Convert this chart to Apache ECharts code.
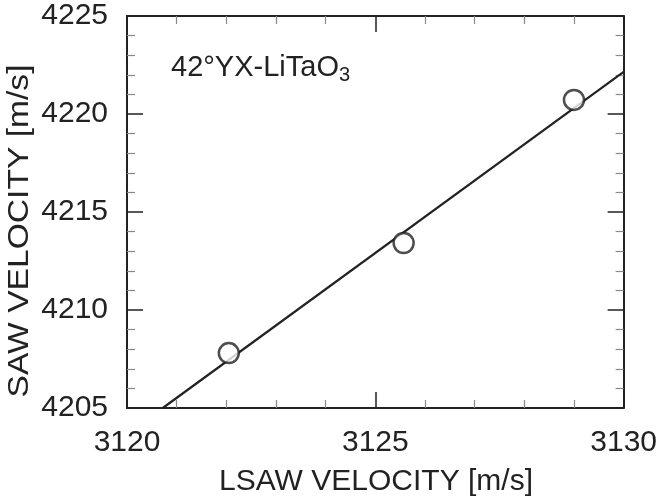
<!DOCTYPE html>
<html>
<head>
<meta charset="utf-8">
<script src="https://cdn.jsdelivr.net/npm/echarts@6/dist/echarts.min.js"></script>
<style>html,body{margin:0;padding:0;background:#fff}#c{width:660px;height:500px}</style>
</head>
<body>
<div id="c"></div>
<script>
const lsawVelocity = [3122.05, 3125.57, 3129.0];
const sawVelocity = [4207.8, 4213.42, 4220.72];
const fitX = [3120.72, 3130];
const fitY = [4205, 4222.15];
const xTicks = [3120, 3125, 3130];
const yTicks = [4205, 4210, 4215, 4220, 4225];
const xTitle = 'LSAW VELOCITY [m/s]';
const yTitle = 'SAW VELOCITY [m/s]';
const annotation = '42°YX-LiTaO{sub|3}';

const FONT = '"Liberation Sans", Arial, sans-serif';
const INK = '#222';
const chart = echarts.init(document.getElementById('c'), null, {renderer: 'canvas'});

function axisBase(pos, isX, show) {
  const ticks = isX ? xTicks : yTicks;
  return {
    type: 'value', position: pos,
    min: ticks[0], max: ticks[ticks.length - 1], interval: 5,
    axisLine: {show: true, onZero: false, lineStyle: {color: INK, width: 2}},
    axisTick: {show: true, inside: true, length: 16, lineStyle: {color: INK, width: 1.5}},
    minorTick: {show: true, splitNumber: 5, length: 8, lineStyle: {color: '#888', width: 1.2}},
    splitLine: {show: false},
    axisLabel: {show: show, color: INK, fontSize: 30, fontFamily: FONT, margin: isX ? 20 : 19,
      formatter: v => String(v)},
    minorSplitLine: {show: false}
  };
}

chart.setOption({
  animation: false,
  grid: {left: 127, right: 35, top: 16, bottom: 92, containLabel: false},
  xAxis: [axisBase('bottom', true, true), axisBase('top', true, false)],
  yAxis: [axisBase('left', false, true), axisBase('right', false, false)],
  series: [
    {
      type: 'line', xAxisIndex: 0, yAxisIndex: 0,
      data: fitX.map((x, i) => [x, fitY[i]]),
      showSymbol: false, symbol: 'none',
      lineStyle: {color: INK, width: 2.2}, z: 2
    },
    {
      type: 'scatter', xAxisIndex: 0, yAxisIndex: 0,
      data: lsawVelocity.map((x, i) => [x, sawVelocity[i]]),
      symbol: 'circle', symbolSize: 20,
      itemStyle: {color: '#fff', borderColor: INK, borderWidth: 2.5}, z: 3
    }
  ],
  graphic: [
    {type: 'text', x: 376, y: 481.5,
      style: {text: xTitle, fill: INK, font: '30px ' + FONT, align: 'center', verticalAlign: 'middle'}},
    {type: 'text', x: 20, y: 231, rotation: Math.PI / 2, scaleX: 1.12,
      style: {text: yTitle, fill: INK, font: '30px ' + FONT, align: 'center', verticalAlign: 'middle'}},
    {type: 'text', x: 171, y: 51,
      style: {text: annotation, fill: INK, font: '29px ' + FONT,
        rich: {sub: {fontSize: 20, fontFamily: FONT, fill: INK, padding: [14, 0, 0, 0]}}}}
  ]
});
</script>
</body>
</html>
